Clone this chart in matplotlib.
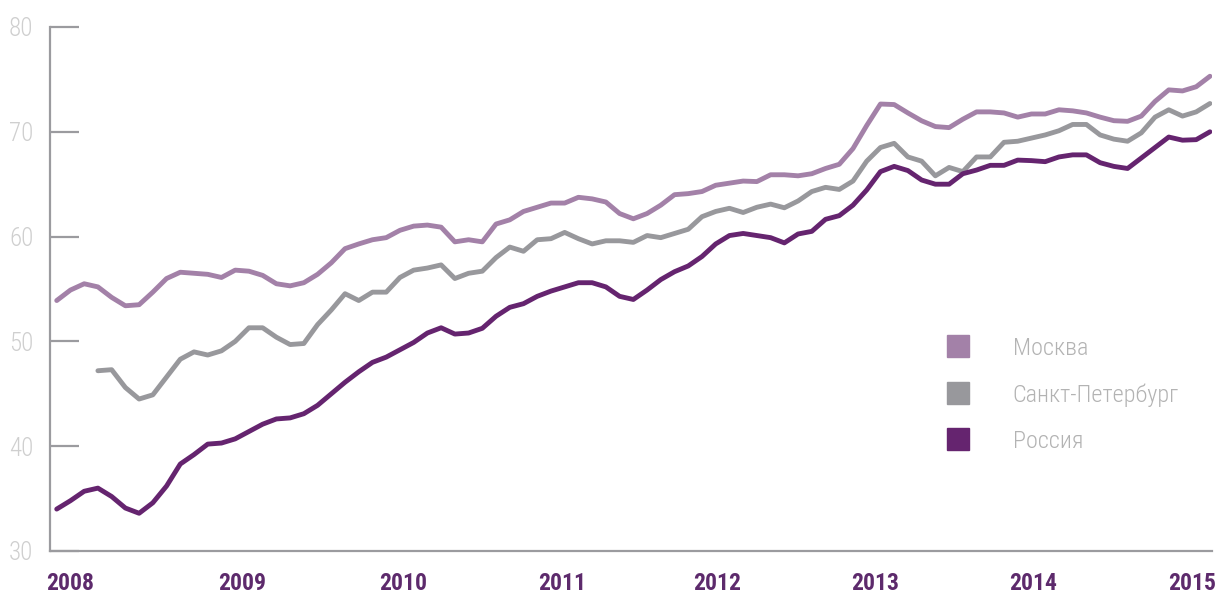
import numpy as np
import matplotlib
matplotlib.use("Agg")
import matplotlib.pyplot as plt
from matplotlib.lines import Line2D
from matplotlib import font_manager as fm

# ---------------- data ----------------
months = np.arange(85)  # Jan 2008 ... Jan 2015, monthly
series_names = ["Москва", "Санкт-Петербург", "Россия"]

moscow = [53.9, 54.9, 55.5, 55.2, 54.2, 53.4, 53.5, 54.7, 56.0, 56.6, 56.5, 56.4,
          56.1, 56.8, 56.7, 56.3, 55.5, 55.3, 55.6, 56.4, 57.5, 58.85, 59.3, 59.7,
          59.9, 60.6, 61.0, 61.1, 60.9, 59.5, 59.7, 59.5, 61.2, 61.6, 62.4, 62.8,
          63.2, 63.2, 63.75, 63.6, 63.3, 62.2, 61.7, 62.2, 63.0, 64.0, 64.1, 64.3,
          64.9, 65.1, 65.3, 65.25, 65.9, 65.9, 65.8, 66.0, 66.5, 66.9, 68.4, 70.6,
          72.65, 72.6, 71.8, 71.05, 70.5, 70.4, 71.2, 71.9, 71.9, 71.8, 71.4, 71.7,
          71.7, 72.1, 72.0, 71.8, 71.4, 71.06, 71.0, 71.5, 72.9, 74.0, 73.9, 74.3,
          75.3]

spb = [np.nan, np.nan, np.nan, 47.2, 47.3, 45.6, 44.5, 44.9, 46.6, 48.3, 49.0, 48.7,
       49.1, 50.0, 51.3, 51.3, 50.4, 49.7, 49.8, 51.6, 53.0, 54.55, 53.9, 54.7,
       54.7, 56.1, 56.8, 57.0, 57.3, 56.0, 56.5, 56.7, 58.0, 59.0, 58.6, 59.7,
       59.8, 60.4, 59.8, 59.3, 59.6, 59.6, 59.45, 60.1, 59.9, 60.3, 60.7, 61.9,
       62.4, 62.7, 62.3, 62.8, 63.1, 62.75, 63.4, 64.3, 64.7, 64.5, 65.3, 67.2,
       68.5, 68.9, 67.6, 67.2, 65.8, 66.6, 66.2, 67.6, 67.6, 69.0, 69.1, 69.4,
       69.7, 70.1, 70.7, 70.7, 69.7, 69.3, 69.1, 69.9, 71.4, 72.1, 71.5, 71.9,
       72.7]

russia = [34.0, 34.8, 35.7, 36.0, 35.2, 34.1, 33.6, 34.6, 36.2, 38.3, 39.2, 40.2,
          40.3, 40.7, 41.4, 42.1, 42.6, 42.7, 43.1, 43.9, 45.0, 46.1, 47.1, 48.0,
          48.5, 49.2, 49.9, 50.8, 51.3, 50.7, 50.8, 51.25, 52.4, 53.25, 53.6, 54.3,
          54.8, 55.2, 55.6, 55.6, 55.2, 54.3, 54.0, 54.9, 55.9, 56.65, 57.2, 58.1,
          59.3, 60.1, 60.3, 60.1, 59.9, 59.4, 60.25, 60.5, 61.65, 62.0, 63.0, 64.45,
          66.2, 66.7, 66.3, 65.4, 65.0, 65.0, 66.0, 66.35, 66.8, 66.8, 67.3, 67.25,
          67.15, 67.6, 67.8, 67.8, 67.05, 66.7, 66.5, 67.5, 68.5, 69.5, 69.2, 69.25,
          70.0]

year_labels = ["2008", "2009", "2010", "2011", "2012", "2013", "2014", "2015"]
year_label_pos = [0.97, 13.5, 25.2, 36.8, 48.1, 59.6, 71.1, 82.7]
y_ticks = [30, 40, 50, 60, 70, 80]

colors = ["#a381a8", "#98989c", "#65246f"]

# ---------------- fonts ----------------
avail = {f.name for f in fm.fontManager.ttflist}
def pick(cands, default="DejaVu Sans"):
    for c in cands:
        if c in avail:
            return c
    return default

light_font = pick(["Roboto Condensed", "Liberation Sans Narrow", "Roboto", "Lato"])
bold_font = pick(["Roboto Condensed", "Liberation Sans Narrow", "Roboto", "Lato"])

# ---------------- figure ----------------
fig = plt.figure(figsize=(12.22, 5.99), dpi=100)
ax = fig.add_axes([50 / 1222, 48 / 599, 1162 / 1222, 524 / 599])

series = [moscow, spb, russia]
for vals, col in zip(series, colors):
    ax.plot(months, vals, color=col, lw=3.5, solid_capstyle="round",
            solid_joinstyle="round", zorder=3)

ax.set_xlim(-0.49, 84.15)
ax.set_ylim(30, 80)

for s in ["top", "right"]:
    ax.spines[s].set_visible(False)
axis_col = "#9b9b9f"
for s in ["left", "bottom"]:
    ax.spines[s].set_color(axis_col)
    ax.spines[s].set_linewidth(1.6)

ax.set_yticks(y_ticks)
ax.set_yticklabels([str(t) for t in y_ticks])
ax.tick_params(axis="y", direction="in", length=21, width=1.6, color=axis_col,
               pad=12, labelcolor="#cfcfcf", labelsize=18)
for lab in ax.get_yticklabels():
    lab.set_fontfamily(light_font)
    lab.set_fontweight("light")
    lab.set_fontstretch("condensed")

ax.set_xticks(year_label_pos)
ax.set_xticklabels(year_labels)
ax.tick_params(axis="x", length=0, pad=15, labelcolor="#5d2a6c", labelsize=17)
for lab in ax.get_xticklabels():
    lab.set_fontfamily(bold_font)
    lab.set_fontweight("bold")
    lab.set_fontstretch("condensed")

handles = [Line2D([], [], marker="s", linestyle="none", markersize=16.5,
                  markerfacecolor=c, markeredgecolor=c) for c in colors]
leg = ax.legend(handles, series_names, loc="upper left",
                bbox_to_anchor=(946 / 1222, 1 - 337 / 599),
                bbox_transform=fig.transFigure, frameon=False,
                borderpad=0, handlelength=1.0, handletextpad=1.75,
                labelspacing=0.95, borderaxespad=0,
                prop=fm.FontProperties(family=light_font, weight="light",
                                       stretch="condensed", size=17.5))
for t in leg.get_texts():
    t.set_color("#b3b3b3")

fig.savefig("out.png", dpi=100)
